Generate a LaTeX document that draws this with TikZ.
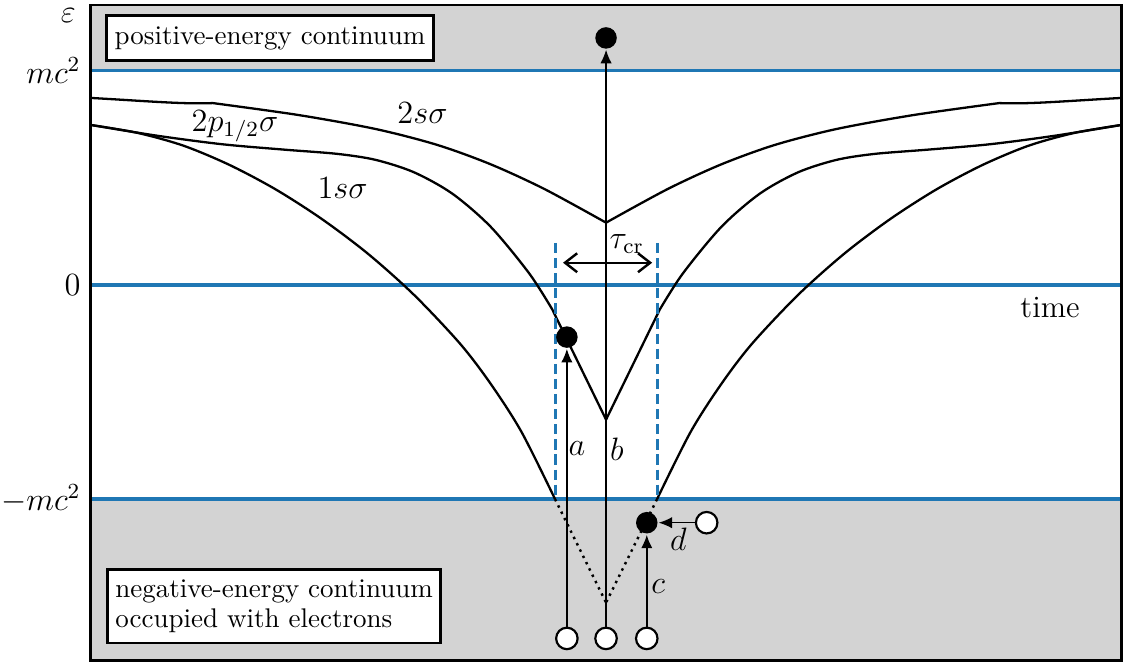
\documentclass[tikz,border=0pt]{standalone}
\usepackage{amsmath}
\usetikzlibrary{arrows.meta, positioning}
\definecolor{linec}{HTML}{1F77B4}
\definecolor{seac}{HTML}{D3D3D3}

\begin{document}
\begin{tikzpicture}[x=1cm, y=2.79cm, >=Latex, line width=0.8pt,
    level/.style={black, line width=0.85pt},
    bound/.style={linec, line width=1.3pt},
    electron/.style={circle, fill=black, minimum size=2.8mm, inner sep=0pt},
    hole/.style={circle, draw=black, fill=white, line width=0.8pt,
                 minimum size=2.8mm, inner sep=0pt},
    jump/.style={-{Latex[length=5pt, width=4.2pt]}, line width=0.5pt},
    infobox/.style={draw, fill=white, line width=1pt, inner xsep=3pt,
                    inner ysep=4pt, align=left, font=\fontsize{10}{10.8}\selectfont},
    lab/.style={font=\fontsize{11.5}{14}\selectfont}]
  \useasboundingbox (-7.89,-1.767) rectangle (6.86,1.329);
  \fill[seac] (-6.71,1) rectangle (6.71,1.305);
  \fill[seac] (-6.71,-1.753) rectangle (6.71,-1);
  \foreach \e in {1,0,-1} \draw[bound] (-6.71,\e) -- (6.71,\e);
  % the three levels, left half and its mirror
  \foreach \s in {1,-1} {
    \begin{scope}[xscale=\s]
      \draw[level] (-6.71,0.872) .. controls (-6.0,0.858) and (-5.5,0.842) .. (-5.12,0.848)
        -- plot[smooth] coordinates {(-5.12,0.848) (-4.0,0.792) (-3.0,0.727)
           (-2.2,0.653) (-1.5,0.562) (-0.8,0.4465) (0,0.29)};
      \draw[level] plot[smooth] coordinates {(-6.71,0.746) (-5.85,0.696) (-5.0,0.656)
           (-4.2,0.631) (-3.5,0.611) (-3.0,0.583) (-2.5,0.525) (-2.0,0.425)
           (-1.5,0.270) (-1.0,0.053) (-0.7,-0.115)} -- (0,-0.629);
      \draw[level] plot[smooth] coordinates {(-6.71,0.746) (-6.1,0.709) (-5.5,0.649)
           (-4.9,0.559) (-4.3,0.445) (-3.7,0.307) (-3.1,0.145) (-2.5,-0.047)
           (-1.9,-0.275) (-1.5,-0.463) (-1.1,-0.687) (-0.664,-1)};
      \draw[dash pattern=on 0.9pt off 1.7pt, line width=0.9pt] (-0.664,-1) -- (0,-1.483);
      \draw[linec, dash pattern=on 3.8pt off 1.8pt, line width=1.1pt]
        (-0.664,0.196) -- (-0.664,-1);
    \end{scope}
  }
  \node[electron] (ea) at (-0.51,-0.244) {};
  \node[electron] (eb) at (0,1.152) {};
  \node[electron] (ec) at (0.53,-1.11) {};
  \node[hole] (ha) at (-0.51,-1.65) {};
  \node[hole] (hb) at (0,-1.65) {};
  \node[hole] (hc) at (0.53,-1.65) {};
  \node[hole] (hd) at (1.31,-1.11) {};
  \draw[jump] (ha) -- (ea);
  \draw[jump] (hb) -- (eb);
  \draw[jump, line width=0.9pt] (hc) -- (ec);
  \draw[jump] (hd) -- (ec);
  \coordinate (taul) at (-0.56,0.103);
  \coordinate (taur) at (0.60,0.103);
  \draw[{Straight Barb[length=4.5pt,width=7pt]}-{Straight Barb[length=4.5pt,width=7pt]},
        line width=0.9pt] (taul) -- (taur);
  \node[lab] (tau) at (0.27,0.191) {$\tau_{\mathrm{cr}}$};
  \node[lab] (la) at (-0.38,-0.765) {$a$};
  \node[lab] (lb) at (0.14,-0.765) {$b$};
  \node[lab] (lc) at (0.68,-1.408) {$c$};
  \node[lab] (ld) at (0.94,-1.189) {$d$};
  \node[lab] (l2s) at (-2.39,0.802) {$2s\sigma$};
  \node[lab] (l2p) at (-4.83,0.741) {$2p_{1/2}\sigma$};
  \node[lab] (l1s) at (-3.43,0.452) {$1s\sigma$};
  \node[lab] (time) at (5.78,-0.107) {time};
  \node[lab, inner sep=0.5pt] (eps) at (-7.0,1.255) {$\varepsilon$};
  \node[lab, left] (mcp) at (-6.71,1) {$mc^2$};
  \node[lab, left] (zero) at (-6.71,0) {$0$};
  \node[lab, left] (mcm) at (-6.71,-1) {$-mc^2$};
  \node[infobox, anchor=north west] (posbox) at (-6.52,1.263)
    {positive-energy continuum};
  \node[infobox, anchor=south west] (negbox) at (-6.51,-1.678)
    {negative-energy continuum\\occupied with electrons};
  \draw[line width=1pt] (-6.71,-1.753) rectangle (6.71,1.305);
\end{tikzpicture}
\end{document}
